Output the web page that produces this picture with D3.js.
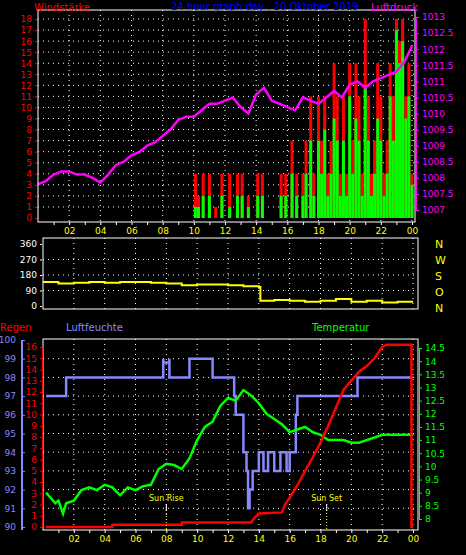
<!DOCTYPE html>
<html><head><meta charset="utf-8">
<script src="https://cdn.jsdelivr.net/npm/d3@7"></script>
<style>body{margin:0;background:#000}text{font-family:"DejaVu Sans",sans-serif}</style>
</head><body><div id="chart"></div>
<script>
// pressure (hour, hPa)
var pressHours = [0,0.5,1,1.5,2,2.5,3,3.5,4,4.5,5,5.5,6,6.5,7,7.5,8,8.5,9,9.5,10,10.5,11,11.5,12,12.5,13,13.5,14,14.5,15,15.5,16,16.5,17,17.5,18,18.5,19,19.5,20,20.5,21,21.5,22,22.5,23,23.5,24];
var pressVals = [1007.8,1007.9,1008.1,1008.2,1008.2,1008.1,1008.1,1008.0,1007.85,1008.1,1008.4,1008.5,1008.7,1008.8,1009.0,1009.1,1009.3,1009.5,1009.8,1009.9,1009.9,1010.1,1010.3,1010.3,1010.4,1010.5,1010.2,1010.0,1010.6,1010.8,1010.4,1010.3,1010.2,1010.1,1010.5,1010.4,1010.3,1010.5,1010.7,1010.5,1010.9,1011.0,1010.8,1011.0,1011.1,1011.2,1011.3,1011.6,1012.1];
// wind bars (hour, gust, average)
var windHours = [10.1,10.3,10.6,11.0,11.4,11.8,12.3,12.8,13.1,13.5,14.1,14.4,15.6,15.9,16.3,16.6,17.0,17.2,17.5,17.7,18.0,18.2,18.4,18.6,18.8,19.0,19.2,19.4,19.6,19.8,20.0,20.2,20.4,20.6,20.8,21.0,21.2,21.4,21.6,21.8,22.0,22.2,22.4,22.6,22.8,23.0,23.2,23.4,23.6,23.8,24.0];
var windGust = [4,2,4,4,1,4,4,4,4,2,4,4,4,4,7,4,4,7,11,4,11,7,11,4,7,14,11,4,11,4,14,7,14,11,4,18,11,4,7,14,11,4,7,14,11,18,16,18,11,14,4];
var windAvg = [1,1,2,2,0,2,1,2,2,1,2,2,2,2,4,2,2,4,7,2,7,4,8,2,4,9,7,2,7,2,11,4,9,7,2,12,7,2,4,9,7,2,4,11,7,17,14,16,9,11,3];
// wind direction (hour, degrees)
var dirHours = [0,1,2,3,4,5,6,7,8,9,10,11,12,13,14,14.1,15,16,17,18,19,20,21,22,23,24];
var dirVals = [140,130,135,140,135,140,140,135,130,120,125,125,120,115,110,30,35,30,25,30,40,25,30,20,25,25];
// humidity steps (hour, %)
var humHours = [0.2,1.5,7.8,7.8,8.2,8.2,9.5,9.5,11,12.4,12.5,13.0,13.2,13.3,13.4,13.6,14.0,14.3,14.6,15.0,15.4,15.8,16.0,16.4,16.5,20.4,24];
var humVals = [97,98,99,98.8,99,98,99,99,98,97,96,94,93,91,92,93,94,93,94,93,94,93,94,96,97,98,98];
// temperature (hour, degC)
var tempHours = [0.2,0.5,0.8,1.0,1.3,1.5,2.0,2.5,3.0,3.5,4.0,4.5,5.0,5.5,6.0,6.5,7.0,7.5,8.0,8.5,9.0,9.5,10.0,10.5,11.0,11.5,12.0,12.5,13.0,13.5,14.0,14.5,15.0,15.5,16.0,16.5,17.0,17.5,18.0,18.5,19.0,19.5,20.0,20.5,21.0,21.5,22.0,23.0,24.0];
var tempVals = [9.0,8.8,8.6,8.7,8.2,8.6,8.7,9.1,9.2,9.1,9.3,9.2,8.9,9.2,9.1,9.25,9.3,9.9,10.1,10.05,9.9,10.3,11.0,11.5,11.7,12.3,12.6,12.5,12.9,12.7,12.4,12.0,11.8,11.6,11.3,11.4,11.5,11.3,11.2,11.0,11.0,11.0,10.9,10.9,11.0,11.1,11.2,11.2,11.2];
// rain (hour, mm)
var rainHours = [0.2,4.5,4.5,9,9,13.5,13.7,14,15.5,15.7,16,16.5,17,17.5,18,18.5,19,19.5,20,20.5,21,21.5,22,22.3,23.9,23.9,24];
var rainVals = [0,0,0.2,0.2,0.4,0.4,0.8,1.2,1.3,2.0,2.6,3.7,5.0,6.2,7.5,9.0,10.6,12.2,13.0,13.8,14.3,15.0,16.0,16.2,16.2,0,0];
var hourTicks = [2,4,6,8,10,12,14,16,18,20,22,24];

var svg = d3.select("#chart").append("svg").attr("width", 466).attr("height", 555)
  .style("background", "#000");

function dotted(g, xa, xb, ya, yb) {
  g.append("line").attr("x1", xa).attr("x2", xb).attr("y1", ya).attr("y2", yb)
    .attr("stroke", "#fff").attr("stroke-dasharray", "1,4");
}
function hourAxis(y0, x) {
  var ax = svg.append("g").attr("transform", `translate(0,${y0})`)
    .call(d3.axisBottom(x).tickValues(d3.range(1, 25)).tickSize(3).tickFormat(function (h) {
      return h % 2 === 0 ? d3.format("02")(h % 24) : "";
    }));
  ax.select(".domain").remove();
  ax.selectAll("line").attr("stroke", "#fff");
  ax.selectAll("text").attr("fill", "#ff0").attr("font-size", 9);
}
function styleAxis(ax, col) {
  ax.selectAll("path,line").attr("stroke", col);
  ax.selectAll("text").attr("fill", col).attr("font-size", 9);
  return ax;
}

// ---- top panel: wind + pressure
var x1 = d3.scaleLinear().domain([0, 24]).range([38, 412]);
var yWind = d3.scaleLinear().domain([0, 18]).range([218, 19]);
var yPress = d3.scaleLinear().domain([1007, 1013]).range([210, 17]);
var topG = svg.append("g");
d3.range(1, 19).forEach(function (v) { dotted(topG, 38, 415, yWind(v), yWind(v)); });
hourTicks.forEach(function (h) { dotted(topG, x1(h), x1(h), 10, 222); });
topG.selectAll(".gust").data(windHours).enter().append("rect")
  .attr("x", function (h) { return x1(h) - 1.5; }).attr("width", 3)
  .attr("y", function (h, i) { return yWind(windGust[i]); })
  .attr("height", function (h, i) { return yWind(0) - yWind(windGust[i]); }).attr("fill", "#f00");
topG.selectAll(".avg").data(windHours).enter().append("rect")
  .attr("x", function (h) { return x1(h) - 1.5; }).attr("width", 3)
  .attr("y", function (h, i) { return yWind(windAvg[i]); })
  .attr("height", function (h, i) { return yWind(0) - yWind(windAvg[i]); }).attr("fill", "#0f0");
topG.append("path").datum(pressHours).attr("fill", "none").attr("stroke", "#f0f").attr("stroke-width", 2.5)
  .attr("d", d3.line().x(function (h) { return x1(h); }).y(function (h, i) { return yPress(pressVals[i]); }));
topG.append("rect").attr("x", 38).attr("y", 10).attr("width", 377).attr("height", 212)
  .attr("fill", "none").attr("stroke", "#fff");
styleAxis(svg.append("g").attr("transform", "translate(37,0)")
  .call(d3.axisLeft(yWind).tickValues(d3.range(0, 19)).tickSize(2).tickFormat(d3.format("d"))), "#f00")
  .select(".domain").remove();
styleAxis(svg.append("g").attr("transform", "translate(416,0)")
  .call(d3.axisRight(yPress).tickValues(d3.range(1007, 1013.01, 0.5)).tickSize(3).tickFormat(function (v) { return String(v); })), "#f0f");
hourAxis(222, x1);
svg.append("text").attr("x", 34).attr("y", 11).attr("fill", "#f00").attr("font-size", 10).text("Windstärke");
svg.append("text").attr("x", 171).attr("y", 10).attr("fill", "#00f").attr("font-size", 10).text("24 hour graph day : 20 Oktober 2019");
svg.append("text").attr("x", 371).attr("y", 11).attr("fill", "#f0f").attr("font-size", 10).text("Luftdruck");

// ---- middle panel: wind direction
var x2 = d3.scaleLinear().domain([0, 24]).range([43, 413]);
var yDir = d3.scaleLinear().domain([0, 360]).range([306, 244]);
var mid = svg.append("g");
[90, 180, 270].forEach(function (v) { dotted(mid, 43, 418, yDir(v), yDir(v)); });
hourTicks.forEach(function (h) { dotted(mid, x2(h), x2(h), 238, 309); });
mid.append("path").datum(dirHours).attr("fill", "none").attr("stroke", "#ff0").attr("stroke-width", 2)
  .attr("d", d3.line().curve(d3.curveStepAfter).x(function (h) { return x2(h); }).y(function (h, i) { return yDir(dirVals[i]); }));
mid.append("rect").attr("x", 43).attr("y", 238).attr("width", 375).attr("height", 71)
  .attr("fill", "none").attr("stroke", "#fff");
styleAxis(svg.append("g").attr("transform", "translate(42,0)")
  .call(d3.axisLeft(yDir).tickValues([0, 90, 180, 270, 360]).tickSize(2)), "#fff")
  .select(".domain").remove();
["N", "W", "S", "O", "N"].forEach(function (l, i) {
  svg.append("text").attr("x", 435).attr("y", 248 + i * 16).attr("fill", "#ff0").attr("font-size", 11).text(l);
});

// ---- bottom panel: humidity, rain, temperature
var yHum = d3.scaleLinear().domain([90, 100]).range([527, 340]);
var yRain = d3.scaleLinear().domain([0, 16]).range([527, 347]);
var yTemp = d3.scaleLinear().domain([8, 14.5]).range([519, 348]);
var bot = svg.append("g");
d3.range(91, 100).forEach(function (v) { dotted(bot, 43, 418, yHum(v), yHum(v)); });
hourTicks.forEach(function (h) { dotted(bot, x2(h), x2(h), 339, 530); });
bot.append("path").datum(humHours).attr("fill", "none").attr("stroke", "#88f").attr("stroke-width", 2.5)
  .attr("d", d3.line().curve(d3.curveStepAfter).x(function (h) { return x2(h); }).y(function (h, i) { return yHum(humVals[i]); }));
bot.append("path").datum(tempHours).attr("fill", "none").attr("stroke", "#0f0").attr("stroke-width", 2.5)
  .attr("d", d3.line().x(function (h) { return x2(h); }).y(function (h, i) { return yTemp(tempVals[i]); }));
bot.append("path").datum(rainHours).attr("fill", "none").attr("stroke", "#f00").attr("stroke-width", 2.5)
  .attr("d", d3.line().x(function (h) { return x2(h); }).y(function (h, i) { return yRain(rainVals[i]); }));
[["Sun Rise", 8.0], ["Sun Set", 18.4]].forEach(function (s) {
  bot.append("line").attr("x1", x2(s[1])).attr("x2", x2(s[1])).attr("y1", 504).attr("y2", 530)
    .attr("stroke", "#ff0").attr("stroke-dasharray", "1,2");
  bot.append("line").attr("x1", x2(s[1])).attr("x2", x2(s[1])).attr("y1", 504).attr("y2", 511).attr("stroke", "#fff");
  bot.append("text").attr("x", x2(s[1])).attr("y", 501).attr("text-anchor", "middle")
    .attr("fill", "#ff0").attr("font-size", 8).text(s[0]);
});
bot.append("rect").attr("x", 43).attr("y", 339).attr("width", 375).attr("height", 191)
  .attr("fill", "none").attr("stroke", "#fff");
styleAxis(svg.append("g").attr("transform", "translate(22,0)")
  .call(d3.axisLeft(yHum).tickValues(d3.range(90, 101)).tickSize(-3).tickPadding(6).tickFormat(d3.format("d"))), "#88f")
  .select(".domain").remove();
svg.append("line").attr("x1", 22).attr("x2", 22).attr("y1", 340).attr("y2", 530).attr("stroke", "#88f").attr("stroke-width", 2);
styleAxis(svg.append("g").attr("transform", "translate(42,0)")
  .call(d3.axisLeft(yRain).tickValues(d3.range(0, 17)).tickSize(2).tickFormat(d3.format("d"))), "#f00");
styleAxis(svg.append("g").attr("transform", "translate(419,0)")
  .call(d3.axisRight(yTemp).tickValues(d3.range(8, 14.51, 0.5)).tickSize(3).tickFormat(function (v) { return String(v); })), "#0f0");
hourAxis(530, x2);
svg.append("text").attr("x", 0).attr("y", 331).attr("fill", "#f00").attr("font-size", 10).text("Regen");
svg.append("text").attr("x", 66).attr("y", 331).attr("fill", "#88f").attr("font-size", 10).text("Luftfeuchte");
svg.append("text").attr("x", 312).attr("y", 331).attr("fill", "#0f0").attr("font-size", 10).text("Temperatur");
</script></body></html>
